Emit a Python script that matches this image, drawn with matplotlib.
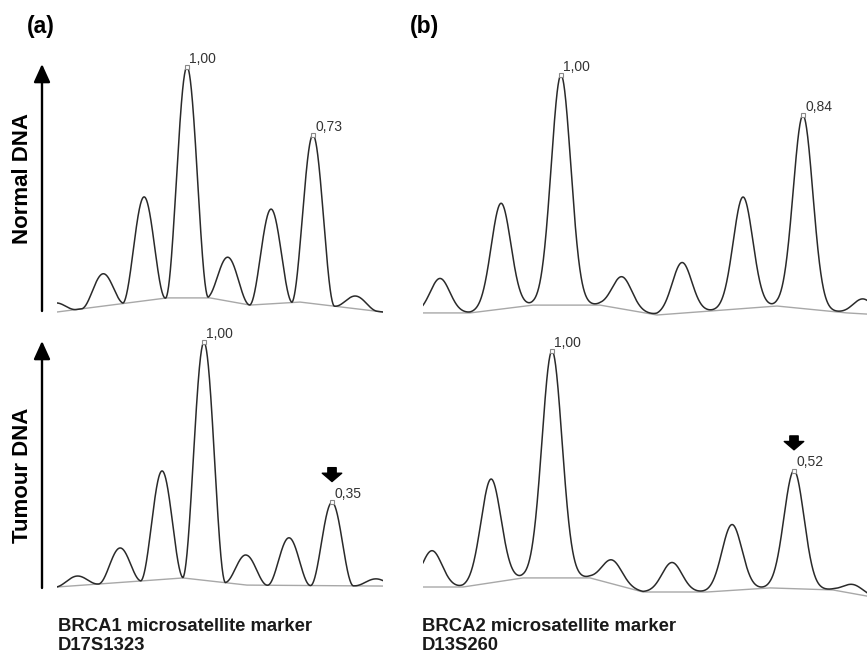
import matplotlib
matplotlib.use('Agg')
import matplotlib.pyplot as plt
import matplotlib.transforms as mtransforms
import numpy as np

plt.rcParams['font.family'] = ['Liberation Sans', 'DejaVu Sans']

## Data (peak positions in trace units, heights relative to the main allele)
a_normal_pos = [-2, 46, 87, 130, 171, 214, 256, 299]
a_normal_height = [0.04, 0.14, 0.45, 1.00, 0.19, 0.41, 0.73, 0.055]
a_normal_base_x = [0, 110, 153, 193, 243, 326]
a_normal_base_y = [0, 0.061, 0.061, 0.030, 0.043, 0]

a_tumour_pos = [20, 63, 105, 147, 189, 232, 275, 319]
a_tumour_height = [0.04, 0.145, 0.456, 1.00, 0.126, 0.20, 0.35, 0.03]
a_tumour_base_x = [0, 126, 190, 326]
a_tumour_base_y = [0, 0.038, 0.008, 0.004]

b_normal_pos = [17, 78, 138, 199, 259, 320, 380, 440]
b_normal_height = [0.15, 0.46, 1.00, 0.14, 0.22, 0.485, 0.84, 0.065]
b_normal_base_x = [0, 47, 110, 177, 234, 354, 424, 444]
b_normal_base_y = [0.009, 0.009, 0.043, 0.043, 0, 0.039, 0.009, 0.004]

b_tumour_pos = [9, 68, 129, 189, 249, 309, 371, 430]
b_tumour_height = [0.16, 0.457, 1.00, 0.105, 0.13, 0.29, 0.52, 0.04]
b_tumour_base_x = [0, 40, 100, 167, 220, 284, 347, 410, 444]
b_tumour_base_y = [0.022, 0.022, 0.062, 0.062, 0, 0, 0.018, 0.009, -0.018]

# labelled peaks: (index, text)
a_normal_labels = [(3, '1,00'), (6, '0,73')]
a_tumour_labels = [(3, '1,00'), (6, '0,35')]
b_normal_labels = [(2, '1,00'), (6, '0,84')]
b_tumour_labels = [(2, '1,00'), (6, '0,52')]

marker_a = 'BRCA1 microsatellite marker\nD17S1323'
marker_b = 'BRCA2 microsatellite marker\nD13S260'

W, H = 867, 654
fig = plt.figure(figsize=(W / 100, H / 100), dpi=100)

TRACE = '#2a2a2a'
BASE = '#a8a8a8'


def peak_shape(d, kind, w):
    if kind == 'hann':
        out = np.cos(np.pi * d / (2 * w)) ** 2
        out[np.abs(d) > w] = 0
        return out
    return np.exp(-0.5 * (d / w) ** 2)


def panel(x0, x1, y0, scale, pos, height, bx, by, kind, w, labels, arrow_idx=None):
    """x0,x1: pixel span of trace, y0: pixel of value 0, scale: pixels per unit"""
    lo, hi = -0.15, 1.25
    top = y0 - hi * scale
    bot = y0 - lo * scale
    ax = fig.add_axes([x0 / W, 1 - bot / H, (x1 - x0) / W, (bot - top) / H])
    L = x1 - x0
    x = np.linspace(0, L, 2000)
    base = np.interp(x, bx, by)
    y = base.copy()
    for p, h in zip(pos, height):
        y += h * peak_shape(x - p, kind, w)
    ax.plot(bx, by, color=BASE, lw=1.0)
    ax.plot(x, y, color=TRACE, lw=1.1)
    for idx, txt in labels:
        px = pos[idx]
        py = np.interp(px, bx, by) + height[idx]
        ax.plot([px], [py], marker='s', ms=3.5, mfc='white', mec='#888888', mew=0.8)
        ax.annotate(txt, (px, py), xytext=(1.5, 1), textcoords='offset points',
                    ha='left', va='bottom', fontsize=10, color='#333333')
    if arrow_idx is not None:
        px = pos[arrow_idx]
        py = np.interp(px, bx, by) + height[arrow_idx]
        tip = mtransforms.offset_copy(ax.transData, fig=fig, x=0, y=15, units='points')
        ax.annotate('', xy=(px, py), xycoords=tip, xytext=(0, 10), textcoords='offset points',
                    arrowprops=dict(arrowstyle='simple,head_length=6,head_width=14,tail_width=6',
                                    mutation_scale=1, fc='black', ec='black',
                                    shrinkA=0, shrinkB=0))
    ax.set_xlim(0, L)
    ax.set_ylim(lo, hi)
    ax.axis('off')
    return ax


panel(57, 383, 312, 231, a_normal_pos, a_normal_height, a_normal_base_x, a_normal_base_y,
      'hann', 21.5, a_normal_labels)
panel(57, 383, 587, 238, a_tumour_pos, a_tumour_height, a_tumour_base_x, a_tumour_base_y,
      'hann', 21.5, a_tumour_labels, 6)
panel(423, 867, 315, 230, b_normal_pos, b_normal_height, b_normal_base_x, b_normal_base_y,
      'gauss', 9.8, b_normal_labels)
panel(423, 867, 592, 227, b_tumour_pos, b_tumour_height, b_tumour_base_x, b_tumour_base_y,
      'gauss', 10.0, b_tumour_labels, 6)

# overlay for labels and axis arrows (pixel coords)
ov = fig.add_axes([0, 0, 1, 1], facecolor='none')
ov.set_xlim(0, W)
ov.set_ylim(H, 0)
ov.axis('off')

for y_start, y_tip in [(311, 64), (588, 341)]:
    ov.annotate('', xy=(42, y_tip), xytext=(42, y_start),
                arrowprops=dict(arrowstyle='-|>,head_length=0.55,head_width=0.25',
                                mutation_scale=20, lw=1.7, color='black',
                                shrinkA=0, shrinkB=0))

ov.text(27, 26, '(a)', fontsize=16.5, fontweight='bold', ha='left', va='center')
ov.text(410, 26, '(b)', fontsize=16.5, fontweight='bold', ha='left', va='center')
ov.text(23, 178, 'Normal DNA', fontsize=16, fontweight='bold', rotation=90, ha='center', va='center')
ov.text(23, 475, 'Tumour DNA', fontsize=16, fontweight='bold', rotation=90, ha='center', va='center')
ov.text(58, 618, marker_a, fontsize=13.3, fontweight='bold', ha='left', va='top', linespacing=1.15, color='#1a1a1a')
ov.text(422, 618, marker_b, fontsize=13.3, fontweight='bold', ha='left', va='top', linespacing=1.15, color='#1a1a1a')

fig.savefig('out.png', dpi=100)
